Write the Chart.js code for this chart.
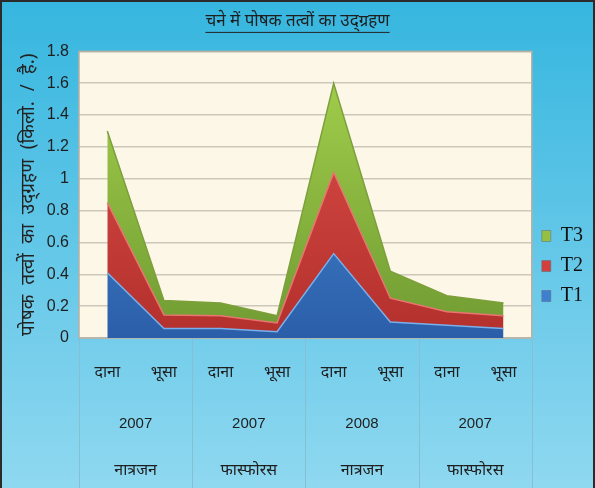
<!DOCTYPE html>
<html>
<head>
<meta charset="utf-8">
<script src="https://cdn.jsdelivr.net/npm/chart.js@4"></script>
<style>
  html, body { margin: 0; padding: 0; background: #fff; }
  #wrap {
    width: 591px; height: 486px;
    border: 2px solid #2b2b2b; border-bottom: none;
    background: linear-gradient(#36b6df, #8fd8f0);
  }
</style>
</head>
<body>
<div id="wrap"><canvas id="uptakeChart" width="591" height="486"></canvas></div>
<script>
// categories (three label rows)
const parts = ['दाना', 'भूसा', 'दाना', 'भूसा', 'दाना', 'भूसा', 'दाना', 'भूसा'];
const years = ['2007', '2007', '2008', '2007'];
const nutrients = ['नात्रजन', 'फास्फोरस', 'नात्रजन', 'फास्फोरस'];

// uptake per treatment (kg/ha), stacked
const t1 = [0.41, 0.06, 0.06, 0.04, 0.53, 0.10, 0.08, 0.06];
const t2 = [0.44, 0.085, 0.08, 0.055, 0.51, 0.15, 0.085, 0.08];
const t3 = [0.45, 0.09, 0.08, 0.045, 0.56, 0.17, 0.10, 0.08];

const yTicks = ['0', '0.2', '0.4', '0.6', '0.8', '1', '1.2', '1.4', '1.6', '1.8'];

const titleText = 'चने में पोषक तत्वों का उद्ग्रहण';
const yTitle = 'पोषक  तत्वों  का  उद्ग्रहण  (किलो.  /  है.)';
const hindiFont = "'Noto Sans', 'Lohit Devanagari', sans-serif";
const numFont = "'Liberation Sans', Arial, sans-serif";

function grad(top, bottom) {
    return (c) => {
        const area = c.chart.chartArea;
        if (!area) return top;
        const g = c.chart.ctx.createLinearGradient(0, area.top, 0, area.bottom);
        g.addColorStop(0, top);
        g.addColorStop(1, bottom);
        return g;
    };
}

// cream plot area, its frame, group separators and title underline
const decor = {
    id: 'decor',
    afterLayout(chart) {
        // legend sits a bit low on the right, next to the lower half of the plot
        chart.legend.top += 42;
    },
    beforeDraw(chart) {
        const { ctx, chartArea: a } = chart;
        ctx.save();
        ctx.fillStyle = '#fdf7e7';
        ctx.fillRect(a.left, a.top, a.right - a.left, a.bottom - a.top);
        ctx.restore();
    },
    beforeDatasetsDraw(chart) {
        const { ctx, chartArea: a } = chart;
        ctx.save();
        ctx.strokeStyle = '#b8b0a2';
        ctx.lineWidth = 1.5;
        ctx.strokeRect(a.left, a.top, a.right - a.left, a.bottom - a.top);
        ctx.restore();
    },
    afterDraw(chart) {
        const { ctx, chartArea: a } = chart;
        const x = chart.scales.x;
        const half = (x.getPixelForValue(1) - x.getPixelForValue(0)) / 2;
        ctx.save();
        ctx.strokeStyle = '#86bfd4';
        ctx.lineWidth = 1;
        for (let i = 0; i <= parts.length; i += 2) {
            const px = i < parts.length ? x.getPixelForValue(i) - half : x.getPixelForValue(i - 1) + half;
            ctx.beginPath();
            ctx.moveTo(Math.round(px) + 0.5, a.bottom);
            ctx.lineTo(Math.round(px) + 0.5, chart.height);
            ctx.stroke();
        }
        // underline the title
        const tb = chart.titleBlock;
        const tf = chart.options.plugins.title.font;
        ctx.font = tf.size + 'px ' + tf.family;
        const w = ctx.measureText(titleText).width;
        const cx = (tb.left + tb.right) / 2;
        const uy = tb.bottom - chart.options.plugins.title.padding.bottom + 1;
        ctx.strokeStyle = '#222';
        ctx.beginPath();
        ctx.moveTo(cx - w / 2, uy);
        ctx.lineTo(cx + w / 2, uy);
        ctx.stroke();
        ctx.restore();
    }
};

const tickFont = { family: hindiFont, size: 16 };

new Chart(document.getElementById('uptakeChart'), {
    type: 'line',
    data: {
        labels: parts,
        datasets: [
            { label: 'T1', data: t1, fill: 'origin', backgroundColor: grad('#4f93de', '#2b5ea8'), borderColor: '#79b0ec' },
            { label: 'T2', data: t2, fill: '-1', backgroundColor: grad('#e0504b', '#b3302c'), borderColor: '#e87571' },
            { label: 'T3', data: t3, fill: '-1', backgroundColor: grad('#a6d24e', '#6f9b32'), borderColor: '#7d9f3c' }
        ]
    },
    options: {
        responsive: false,
        animation: false,
        elements: {
            point: { radius: 0 },
            line: { tension: 0, borderWidth: 1.5 }
        },
        layout: { padding: { right: 0 } },
        scales: {
            x: {
                offset: true,
                grid: { display: false },
                border: { display: false },
                ticks: { color: '#1e1e1e', font: tickFont, padding: 17, maxRotation: 0 },
                afterFit: (s) => { s.height = 50; }
            },
            x2: {
                type: 'category', labels: years, position: 'bottom', weight: 1,
                offset: true,
                grid: { display: false },
                border: { display: false },
                ticks: { color: '#1e1e1e', font: { family: numFont, size: 15 }, padding: 19, maxRotation: 0 },
                afterFit: (s) => { s.height = 50; }
            },
            x3: {
                type: 'category', labels: nutrients, position: 'bottom', weight: 2,
                offset: true,
                grid: { display: false },
                border: { display: false },
                ticks: { color: '#1e1e1e', font: tickFont, padding: 15, maxRotation: 0 },
                afterFit: (s) => { s.height = 50; }
            },
            y: {
                stacked: true,
                min: 0,
                max: 1.8,
                grid: { color: '#cdc8bb', lineWidth: 1.5, drawTicks: false },
                border: { display: false },
                ticks: {
                    stepSize: 0.2,
                    padding: 10,
                    color: '#1e1e1e',
                    font: { family: numFont, size: 16 },
                    callback: (v, i) => yTicks[i]
                },
                title: {
                    display: true,
                    text: yTitle,
                    color: '#222',
                    font: { family: hindiFont, size: 19 },
                    padding: { top: 15, bottom: 0 }
                },
                afterFit: (s) => { s.width = 77; }
            }
        },
        plugins: {
            title: {
                display: true,
                text: titleText,
                color: '#1e1e1e',
                font: { family: hindiFont, size: 17, weight: 'normal' },
                padding: { top: 9, bottom: 20 }
            },
            legend: {
                position: 'right',
                reverse: true,
                labels: {
                    color: '#111',
                    font: { family: "'Liberation Serif', serif", size: 20 },
                    boxWidth: 9,
                    boxHeight: 11,
                    padding: 10,
                    generateLabels: (chart) => Chart.defaults.plugins.legend.labels.generateLabels(chart).map((it) => {
                        const solid = ['#3f7fcf', '#d33f3b', '#96c043'][it.datasetIndex];
                        return Object.assign(it, { fillStyle: solid, strokeStyle: '#5b6b7a', lineWidth: 0.5 });
                    })
                }
            },
            tooltip: { enabled: false }
        }
    },
    plugins: [decor]
});
</script>
</body>
</html>
